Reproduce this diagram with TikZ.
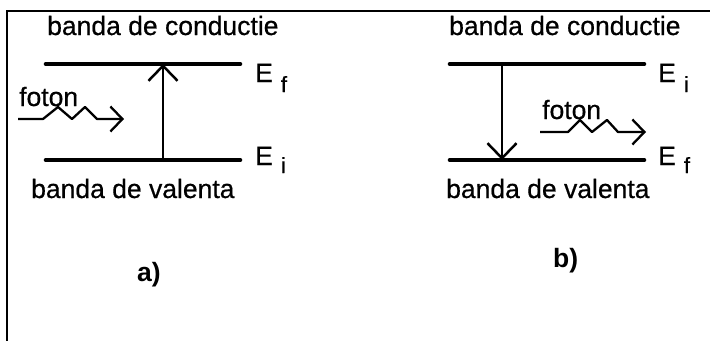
\documentclass[tikz,border=0pt]{standalone}
\usepackage{fontspec}
\setmainfont{Liberation Sans}[UprightFeatures={FakeBold=0.6}]
\usetikzlibrary{arrows.meta}
\newcommand{\mainsz}{\fontsize{26.5}{30}\selectfont}
\newcommand{\subsz}{\fontsize{22}{25}\selectfont}
\tikzset{
  lbl/.style={anchor=base west, inner sep=0pt, font=\mainsz},
  band/.style={line width=4.6pt, line cap=round},
  trans/.style={line width=2.5pt, -{Straight Barb[length=15pt,width=29pt,line width=2.5pt]}},
  photon/.style={line width=2.3pt, line join=round, -{Straight Barb[length=12pt,width=25pt,line width=2.3pt]}},
  frame/.style={line width=2pt}
}
\begin{document}
\begin{tikzpicture}[x=1pt,y=-1pt]
\useasboundingbox (0,0) rectangle (710,341);
% outer frame (top and left edges)
\coordinate (fTL) at (7,11);
\coordinate (fTR) at (710,11);
\coordinate (fBL) at (7,341);
\draw[frame] (fTR) -- (fTL) -- (fBL);

% ---------- panel a): absorption ----------
\coordinate (aCL) at (46,64);  \coordinate (aCR) at (240,64);
\coordinate (aVL) at (46,160); \coordinate (aVR) at (240,160);
\draw[band] (aCL) -- (aCR);
\draw[band] (aVL) -- (aVR);
\coordinate (aUp)  at (163,64);
\coordinate (aLow) at (163,160);
\draw[trans] (aLow) -- (aUp);
\node[lbl] (aCond) at (47,35) {banda de conductie};
\node[lbl] (aVal)  at (31,198) {banda de valenta};
\node[lbl] (aEf) at (255,82) {E\hspace{8pt}\raisebox{-10pt}{\subsz f}};
\node[lbl] (aEi) at (255,165) {E\hspace{8pt}\raisebox{-8pt}{\subsz i}};
\node[lbl] (aPh) at (19,106) {foton};
\coordinate (aW0) at (18,119);
\coordinate (aW6) at (124,119);
\draw[photon] (aW0) -- (43,119) -- (58,107) -- (72,119) -- (85,107) -- (97,119) -- (aW6);
\node[lbl, font=\mainsz\bfseries] (aTag) at (137,281) {a)};

% ---------- panel b): emission ----------
\coordinate (bCL) at (450,64);  \coordinate (bCR) at (644,64);
\coordinate (bVL) at (450,160); \coordinate (bVR) at (644,160);
\draw[band] (bCL) -- (bCR);
\draw[band] (bVL) -- (bVR);
\coordinate (bUp)  at (502,64);
\coordinate (bLow) at (502,160);
\draw[trans] (bUp) -- (bLow);
\node[lbl] (bCond) at (449,35) {banda de conductie};
\node[lbl] (bVal)  at (446,198) {banda de valenta};
\node[lbl] (bEi) at (658,82) {E\hspace{8pt}\raisebox{-10pt}{\subsz i}};
\node[lbl] (bEf) at (658,165) {E\hspace{8pt}\raisebox{-8pt}{\subsz f}};
\node[lbl] (bPh) at (542,119) {foton};
\coordinate (bW0) at (540,132);
\coordinate (bW6) at (646,132);
\draw[photon] (bW0) -- (568,132) -- (580,120) -- (592,132) -- (607,120) -- (618,132) -- (bW6);
\node[lbl, font=\mainsz\bfseries] (bTag) at (553,267) {b)};
\end{tikzpicture}
\end{document}
